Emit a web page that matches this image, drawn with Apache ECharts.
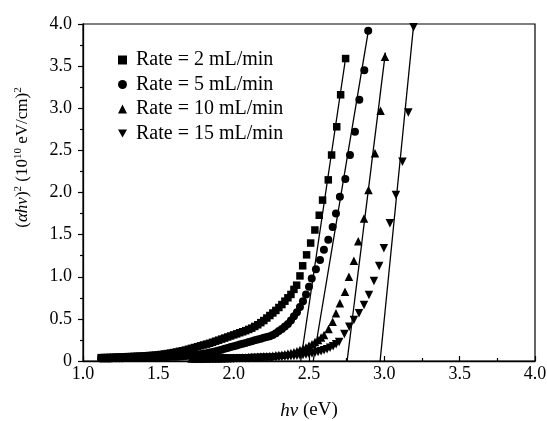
<!DOCTYPE html>
<html>
<head>
<meta charset="utf-8">
<script src="https://cdn.jsdelivr.net/npm/echarts@6/dist/echarts.min.js"></script>
<style>
  html, body { margin: 0; padding: 0; background: #fff; }
  #chart { width: 547px; height: 421px; }
</style>
</head>
<body>
<div id="chart"></div>
<script>
// Tauc plot: (αhν)² versus photon energy for four flow rates

// Series names (legend)
const seriesNames = ['Rate = 2 mL/min', 'Rate = 5 mL/min', 'Rate = 10 mL/min', 'Rate = 15 mL/min'];

// Rate = 2 mL/min (squares)
const hv2 = [1.12,1.14,1.16,1.18,1.20,1.22,1.24,1.26,1.28,1.30,1.32,1.34,1.36,1.38,1.40,1.42,1.44,1.46,1.48,1.50,
  1.52,1.54,1.56,1.58,1.60,1.62,1.64,1.66,1.68,1.70,1.72,1.74,1.76,1.78,1.80,1.82,1.84,1.86,1.88,1.90,
  1.92,1.94,1.96,1.98,2.00,2.02,2.04,2.06,2.08,2.10,2.12,2.14,2.16,2.18,2.20,2.22,2.24,2.26,2.28,2.30,
  2.32,2.34,2.36,2.38,2.40,2.418,2.44,2.458,2.484,2.511,2.539,2.568,2.590,2.628,2.650,2.684,2.710,2.743];
const ah2 = [0.040,0.041,0.042,0.043,0.045,0.046,0.048,0.049,0.050,0.052,0.053,0.055,0.057,0.058,0.060,0.062,0.065,0.067,0.070,0.074,
  0.078,0.083,0.088,0.094,0.100,0.107,0.115,0.122,0.130,0.140,0.150,0.160,0.170,0.180,0.190,0.200,0.210,0.222,0.235,0.247,
  0.260,0.272,0.285,0.297,0.310,0.322,0.335,0.347,0.360,0.375,0.390,0.410,0.430,0.455,0.480,0.510,0.540,0.570,0.600,0.635,
  0.670,0.710,0.750,0.790,0.850,0.900,1.010,1.130,1.260,1.400,1.555,1.730,1.910,2.150,2.445,2.780,3.160,3.590];

// Rate = 5 mL/min (circles)
const hv5 = [1.12,1.14,1.16,1.18,1.20,1.22,1.24,1.26,1.28,1.30,1.32,1.34,1.36,1.38,1.40,1.42,1.44,1.46,1.48,1.50,
  1.52,1.54,1.56,1.58,1.60,1.62,1.64,1.66,1.68,1.70,1.72,1.74,1.76,1.78,1.80,1.82,1.84,1.86,1.88,1.90,
  1.92,1.94,1.96,1.98,2.00,2.02,2.04,2.06,2.08,2.10,2.12,2.14,2.16,2.18,2.20,2.22,2.24,2.26,2.28,2.30,
  2.32,2.34,2.36,2.38,2.40,2.42,2.44,2.46,2.48,2.50,2.518,2.546,2.573,2.599,2.628,2.657,2.679,2.705,2.741,2.772,
  2.805,2.834,2.867,2.893];
const ah5 = [0.030,0.030,0.031,0.031,0.032,0.032,0.033,0.034,0.035,0.035,0.036,0.037,0.038,0.039,0.040,0.041,0.042,0.043,0.044,0.045,
  0.046,0.047,0.048,0.049,0.050,0.051,0.053,0.055,0.058,0.061,0.065,0.070,0.075,0.080,0.085,0.092,0.100,0.107,0.115,0.125,
  0.135,0.145,0.155,0.165,0.175,0.185,0.195,0.205,0.215,0.225,0.235,0.245,0.255,0.265,0.275,0.285,0.295,0.310,0.330,0.355,
  0.380,0.410,0.440,0.480,0.530,0.580,0.640,0.710,0.790,0.880,0.980,1.090,1.200,1.320,1.440,1.590,1.750,1.950,2.160,2.445,
  2.720,3.100,3.450,3.920];

// Rate = 10 mL/min (up triangles)
const hv10 = [1.72,1.74,1.76,1.78,1.80,1.82,1.84,1.86,1.88,1.90,1.92,1.94,1.96,1.98,2.00,2.02,2.04,2.06,2.08,2.10,
  2.12,2.14,2.16,2.18,2.20,2.22,2.24,2.26,2.28,2.30,2.32,2.34,2.36,2.38,2.40,2.42,2.44,2.46,2.48,2.50,
  2.52,2.54,2.56,2.58,2.60,2.63,2.657,2.679,2.705,2.739,2.765,2.798,2.827,2.865,2.895,2.938,2.975,3.004];
const ah10 = [0.030,0.030,0.030,0.030,0.031,0.031,0.032,0.032,0.033,0.033,0.034,0.035,0.036,0.037,0.038,0.039,0.040,0.041,0.043,0.044,
  0.046,0.048,0.050,0.052,0.055,0.057,0.060,0.063,0.067,0.071,0.075,0.081,0.088,0.096,0.105,0.117,0.130,0.145,0.160,0.180,
  0.200,0.225,0.250,0.280,0.310,0.380,0.467,0.566,0.685,0.823,1.000,1.190,1.420,1.690,2.030,2.465,2.970,3.610];

// Rate = 15 mL/min (down triangles)
const hv15 = [1.74,1.76,1.78,1.80,1.82,1.84,1.86,1.88,1.90,1.92,1.94,1.96,1.98,2.00,2.02,2.04,2.06,2.08,2.10,2.12,
  2.14,2.16,2.18,2.20,2.22,2.24,2.26,2.28,2.30,2.32,2.34,2.36,2.38,2.40,2.42,2.44,2.46,2.48,2.50,2.52,
  2.54,2.56,2.58,2.60,2.62,2.64,2.66,2.68,2.70,2.735,2.767,2.798,2.832,2.865,2.898,2.931,2.966,2.997,3.037,3.077,
  3.120,3.159,3.194];
const ah15 = [0.025,0.025,0.025,0.026,0.026,0.027,0.027,0.028,0.028,0.029,0.029,0.030,0.030,0.031,0.031,0.032,0.033,0.033,0.034,0.035,
  0.036,0.037,0.038,0.039,0.040,0.042,0.043,0.045,0.046,0.048,0.050,0.053,0.055,0.058,0.062,0.066,0.070,0.076,0.082,0.090,
  0.097,0.106,0.115,0.127,0.140,0.157,0.175,0.198,0.225,0.320,0.407,0.487,0.566,0.665,0.783,0.950,1.128,1.338,1.634,1.970,
  2.366,2.950,3.960];

// Linear extrapolations of the absorption edges (band-gap fits)
const fitHv2 = [2.445, 2.745],  fitAh2 = [0, 3.62];
const fitHv5 = [2.528, 2.895],  fitAh5 = [0, 3.93];
const fitHv10 = [2.753, 3.007], fitAh10 = [0, 3.66];
const fitHv15 = [2.972, 3.195], fitAh15 = [0, 4.0];

// Axis ticks
const xTicks = { min: 1.0, max: 4.0, step: 0.5 };
const yTicks = { min: 0, max: 4.0, step: 0.5 };

const pairs = (xs, ys) => xs.map((x, i) => [x, ys[i]]);
const downTri = 'path://M0,0 L10,0 L5,9 Z';
const serif = '"Liberation Serif", "DejaVu Serif", serif';

const scatter = (name, xs, ys, symbol, size) => ({
  name, type: 'scatter', data: pairs(xs, ys), symbol, symbolSize: size,
  itemStyle: { color: '#000', opacity: 1 }, z: 3
});
const fit = (xs, ys) => ({
  type: 'line', data: pairs(xs, ys), symbol: 'none', silent: true,
  lineStyle: { color: '#000', width: 1.3 }, z: 4
});

const chart = echarts.init(document.getElementById('chart'), null, { renderer: 'canvas' });
chart.setOption({
  animation: false,
  backgroundColor: '#fff',
  grid: { left: 83, right: 12, top: 24, bottom: 60, outerBoundsMode: 'none', containLabel: false,
    show: true, borderColor: '#000', borderWidth: 1.2, backgroundColor: 'transparent' },
  legend: {
    data: [
      { name: seriesNames[0], icon: 'rect' },
      { name: seriesNames[1], icon: 'circle' },
      { name: seriesNames[2], icon: 'triangle' },
      { name: seriesNames[3], icon: downTri }
    ],
    orient: 'vertical', left: 113, top: 45,
    itemWidth: 9, itemHeight: 9, itemGap: 4.5,
    selectedMode: false,
    itemStyle: { color: '#000', opacity: 1 },
    textStyle: { fontFamily: serif, fontSize: 20, lineHeight: 20, color: '#000', padding: [0, 0, 0, 4] }
  },
  xAxis: {
    type: 'value', min: xTicks.min, max: xTicks.max, interval: xTicks.step,
    name: '{i|hν} (eV)', nameLocation: 'middle', nameGap: 40,
    nameTextStyle: { fontFamily: serif, fontSize: 19, color: '#000',
      rich: { i: { fontFamily: serif, fontSize: 19, fontStyle: 'italic', color: '#000' } } },
    axisLine: { lineStyle: { color: '#000', width: 1.3 } },
    axisTick: { inside: true, length: 5, lineStyle: { color: '#000', width: 1.2 } },
    minorTick: { show: true, splitNumber: 2, length: 3, lineStyle: { color: '#000', width: 1.2 } },
    splitLine: { show: false },
    axisLabel: { fontFamily: serif, fontSize: 18, color: '#000', margin: 4, formatter: v => v.toFixed(1) }
  },
  yAxis: {
    type: 'value', min: yTicks.min, max: yTicks.max, interval: yTicks.step,
    name: '{p|(}{i|αhν}{p|)}{s|2}{p| (10}{s|10}{p| eV/cm)}{s|2}',
    nameLocation: 'middle', nameGap: 50, nameRotate: 90,
    nameTextStyle: { fontFamily: serif, fontSize: 17, color: '#000', padding: [0, 0, 0, 70],
      rich: {
        p: { fontFamily: serif, fontSize: 17, lineHeight: 20, color: '#000' },
        i: { fontFamily: serif, fontSize: 17, lineHeight: 20, fontStyle: 'italic', color: '#000' },
        s: { fontFamily: serif, fontSize: 11, lineHeight: 11, verticalAlign: 'top', color: '#000' }
      } },
    axisLine: { lineStyle: { color: '#000', width: 1.3 } },
    axisTick: { inside: false, length: 5, lineStyle: { color: '#000', width: 1.2 } },
    minorTick: { show: true, splitNumber: 2, length: 3, lineStyle: { color: '#000', width: 1.2 } },
    splitLine: { show: false },
    axisLabel: { fontFamily: serif, fontSize: 18, color: '#000', margin: 11,
      formatter: v => (v === 0 ? '0' : v.toFixed(1)) }
  },
  series: [
    scatter(seriesNames[0], hv2, ah2, 'rect', 7.5),
    scatter(seriesNames[1], hv5, ah5, 'circle', 8),
    scatter(seriesNames[2], hv10, ah10, 'triangle', 8.5),
    scatter(seriesNames[3], hv15, ah15, downTri, 8.5),
    fit(fitHv2, fitAh2),
    fit(fitHv5, fitAh5),
    fit(fitHv10, fitAh10),
    fit(fitHv15, fitAh15)
  ]
});
</script>
</body>
</html>
